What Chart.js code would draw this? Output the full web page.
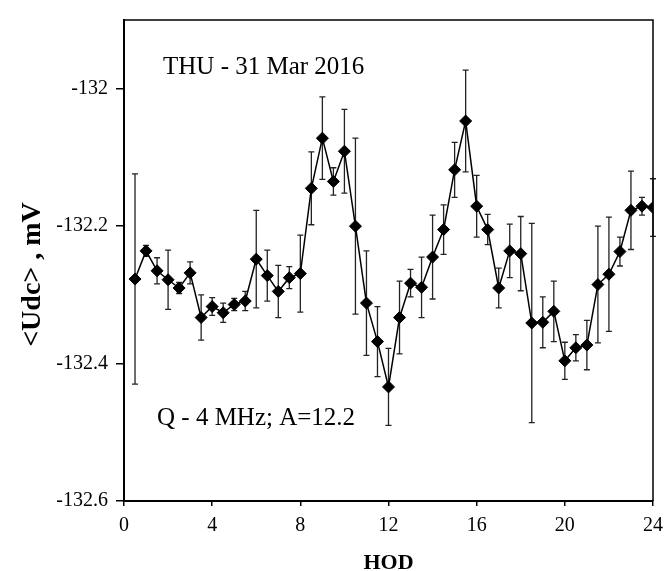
<!DOCTYPE html>
<html lang="en">
<head>
  <meta charset="UTF-8" />
  <title>Udc by hour of day</title>
  <style>
    body {
      margin: 0;
      background: #fff;
    }
    .wrap {
      width: 671px;
      height: 571px;
    }
  </style>
</head>
<body>
  <div class="wrap">
    <canvas id="udcChart" width="671" height="571"></canvas>
  </div>

  <script src="https://cdn.jsdelivr.net/npm/chart.js"></script>
  <script>
    // hour of day (HOD) for each half-hour sample
    const hours = [
      0.5, 1, 1.5, 2, 2.5, 3, 3.5, 4, 4.5, 5, 5.5, 6,
      6.5, 7, 7.5, 8, 8.5, 9, 9.5, 10, 10.5, 11, 11.5, 12,
      12.5, 13, 13.5, 14, 14.5, 15, 15.5, 16, 16.5, 17, 17.5, 18,
      18.5, 19, 19.5, 20, 20.5, 21, 21.5, 22, 22.5, 23, 23.5, 24
    ];

    // mean Udc, mV
    const udcMean = [
      -132.277, -132.236, -132.265, -132.278, -132.290, -132.268, -132.333, -132.317, -132.326, -132.314, -132.309, -132.248,
      -132.272, -132.295, -132.275, -132.269, -132.145, -132.072, -132.135, -132.091, -132.200, -132.312, -132.368, -132.434,
      -132.333, -132.283, -132.289, -132.245, -132.205, -132.118, -132.047, -132.171, -132.205, -132.290, -132.236, -132.240,
      -132.341, -132.340, -132.324, -132.396, -132.377, -132.373, -132.285, -132.270, -132.237, -132.177, -132.171, -132.173
    ];

    // half-width of the error bars, mV
    const udcErr = [
      0.153, 0.008, 0.019, 0.043, 0.008, 0.016, 0.033, 0.013, 0.014, 0.009, 0.014, 0.071,
      0.037, 0.038, 0.016, 0.056, 0.053, 0.060, 0.020, 0.061, 0.128, 0.076, 0.051, 0.056,
      0.053, 0.020, 0.044, 0.061, 0.036, 0.040, 0.074, 0.045, 0.022, 0.029, 0.039, 0.054,
      0.145, 0.037, 0.044, 0.027, 0.019, 0.036, 0.085, 0.083, 0.021, 0.057, 0.013, 0.042
    ];

    const yTicks = [-132.6, -132.4, -132.2, -132];
    const yTitle = '<Udc> , mV';
    const dateLabel = 'THU - 31 Mar 2016';
    const sourceLabel = 'Q - 4 MHz; A=12.2';

    const serif = "'Liberation Serif', 'Times New Roman', serif";

    // vertical error bars with small caps, drawn under the markers
    const errorBars = {
      id: 'errorBars',
      beforeDatasetsDraw(chart) {
        const { ctx, scales: { x, y } } = chart;
        ctx.save();
        ctx.strokeStyle = '#222';
        ctx.lineWidth = 1.3;
        hours.forEach((h, i) => {
          const px = x.getPixelForValue(h);
          const top = y.getPixelForValue(udcMean[i] + udcErr[i]);
          const bot = y.getPixelForValue(udcMean[i] - udcErr[i]);
          ctx.beginPath();
          ctx.moveTo(px, top);
          ctx.lineTo(px, bot);
          ctx.moveTo(px - 3, top);
          ctx.lineTo(px + 3, top);
          ctx.moveTo(px - 3, bot);
          ctx.lineTo(px + 3, bot);
          ctx.stroke();
        });
        ctx.restore();
      }
    };

    // top/right frame, rotated y title and the two notes inside the plot
    const frameAndNotes = {
      id: 'frameAndNotes',
      afterDraw(chart) {
        const { ctx, chartArea: a } = chart;
        ctx.save();
        ctx.strokeStyle = '#000';
        ctx.lineWidth = 1.5;
        ctx.beginPath();
        ctx.moveTo(a.left, a.top);
        ctx.lineTo(a.right, a.top);
        ctx.lineTo(a.right, a.bottom);
        ctx.stroke();

        ctx.fillStyle = '#000';
        ctx.font = '25px ' + serif;
        ctx.textBaseline = 'alphabetic';
        ctx.textAlign = 'left';
        ctx.fillText(dateLabel, a.left + 39, a.top + 54);
        ctx.fillText(sourceLabel, a.left + 33, a.top + 405);

        // y title sits a little below the middle of the axis
        ctx.translate(33, (a.top + a.bottom) / 2 + 14);
        ctx.rotate(-Math.PI / 2);
        ctx.font = 'bold 28px ' + serif;
        ctx.textAlign = 'center';
        ctx.textBaseline = 'middle';
        ctx.fillText(yTitle, 0, 0);
        ctx.restore();
      }
    };

    new Chart(document.getElementById('udcChart'), {
      type: 'line',
      data: {
        datasets: [{
          data: hours.map((h, i) => ({ x: h, y: udcMean[i] })),
          borderColor: '#000',
          borderWidth: 1.5,
          backgroundColor: '#000',
          pointStyle: 'rectRot',
          pointRadius: 6,
          pointBorderWidth: 1,
          pointBackgroundColor: '#000',
          pointBorderColor: '#000',
          tension: 0
        }]
      },
      options: {
        responsive: false,
        animation: false,
        layout: { padding: { top: 16, right: 12, left: 0, bottom: 0 } },
        plugins: {
          legend: { display: false },
          tooltip: { enabled: false }
        },
        scales: {
          x: {
            type: 'linear',
            min: 0,
            max: 24,
            afterFit(scale) { scale.height = 70; },
            ticks: {
              stepSize: 4,
              padding: 8,
              color: '#000',
              font: { family: serif, size: 20 }
            },
            grid: {
              drawOnChartArea: false,
              drawTicks: true,
              tickLength: 5,
              color: '#000',
              lineWidth: 1.5
            },
            border: { display: true, color: '#000', width: 2 },
            title: {
              display: true,
              text: 'HOD',
              color: '#000',
              font: { family: serif, size: 22, weight: 'bold', lineHeight: 1 },
              padding: { top: 0, bottom: -3 }
            }
          },
          y: {
            type: 'linear',
            min: -132.6,
            max: -131.9,
            afterFit(scale) { scale.width = 124; },
            afterBuildTicks(scale) {
              scale.ticks = yTicks.map(v => ({ value: v }));
            },
            ticks: {
              padding: 8,
              color: '#000',
              font: { family: serif, size: 20 },
              callback: v => String(Math.round(v * 10) / 10)
            },
            grid: {
              drawOnChartArea: false,
              drawTicks: true,
              tickLength: 8,
              color: '#000',
              lineWidth: 1.5
            },
            border: { display: true, color: '#000', width: 2 }
          }
        }
      },
      plugins: [errorBars, frameAndNotes]
    });
  </script>
</body>
</html>
